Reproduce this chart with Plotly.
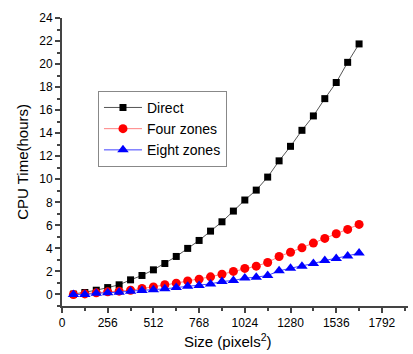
import plotly.graph_objects as go

sizes = [64 * k for k in range(1, 27)]
direct = [0.03, 0.17, 0.37, 0.6, 0.84, 1.27, 1.65, 2.14, 2.69, 3.3, 4.0, 4.69, 5.5,
          6.31, 7.24, 8.2, 9.06, 10.19, 11.6, 12.86, 14.25, 15.5, 17.0, 18.4, 20.15, 21.75]
four_zones = [0.0, 0.05, 0.14, 0.23, 0.29, 0.37, 0.52, 0.66, 0.84, 0.98, 1.18, 1.33, 1.53,
              1.76, 2.0, 2.26, 2.46, 2.78, 3.3, 3.67, 4.05, 4.46, 4.87, 5.27, 5.65, 6.08]
eight_zones = [0.0, 0.0, 0.1, 0.14, 0.2, 0.29, 0.35, 0.4, 0.49, 0.6, 0.72, 0.78, 0.92,
               1.13, 1.21, 1.42, 1.5, 1.65, 2.05, 2.28, 2.46, 2.69, 2.95, 3.13, 3.35, 3.59]
x_ticks = [0, 256, 512, 768, 1024, 1280, 1536, 1792]
y_ticks = list(range(0, 25, 2))

FONT = "Liberation Sans, Arial"

fig = go.Figure()
fig.add_trace(go.Scatter(x=sizes, y=direct, name="Direct", mode="lines+markers",
                         line=dict(color="#555555", width=1),
                         marker=dict(symbol="square", size=7, color="black")))
fig.add_trace(go.Scatter(x=sizes, y=four_zones, name="Four zones", mode="lines+markers",
                         line=dict(color="#ff8080", width=1),
                         marker=dict(symbol="circle", size=9, color="red")))
fig.add_trace(go.Scatter(x=sizes, y=eight_zones, name="Eight zones", mode="lines+markers",
                         line=dict(color="#4040ff", width=1),
                         marker=dict(symbol="triangle-up", size=10, color="blue")))

axis_common = dict(showline=True, linecolor="#444444", linewidth=2, ticks="outside",
                   ticklen=5, tickwidth=1.5, tickcolor="#444444", showgrid=False,
                   zeroline=False, automargin=False,
                   tickfont=dict(family=FONT, size=12, color="black"))

fig.update_xaxes(range=[0, 1938], tickvals=x_ticks, ticktext=[str(v) for v in x_ticks],
                 minor=dict(ticks="outside", ticklen=3, tickcolor="#444444", dtick=128, tick0=0),
                 **axis_common)
fig.update_yaxes(range=[-1, 24], tickvals=y_ticks,
                 minor=dict(ticks="outside", ticklen=3, tickcolor="#444444", dtick=1, tick0=0),
                 **axis_common)

fig.add_annotation(text="Size (pixels<sup>2</sup>)", xref="paper", yref="paper",
                   x=0.48, y=-0.08, xanchor="center", yanchor="top", showarrow=False,
                   font=dict(family=FONT, size=15, color="black"))
fig.add_annotation(text="CPU Time(hours)", xref="paper", yref="paper",
                   x=-0.116, y=0.5, xanchor="center", yanchor="middle", showarrow=False,
                   textangle=-90, font=dict(family=FONT, size=15, color="black"))

fig.update_layout(width=413, height=354, plot_bgcolor="white", paper_bgcolor="white",
                  margin=dict(l=62, r=5, t=18, b=48),
                  legend=dict(x=0.104, y=0.747, xanchor="left", yanchor="top",
                              bordercolor="#888888", borderwidth=1, bgcolor="white",
                              font=dict(family=FONT, size=14, color="black"),
                              tracegroupgap=0, itemwidth=38))

fig.write_html("out.html", config={"displayModeBar": False},
               post_script="document.body.style.margin='0';document.body.style.overflow='hidden';")
